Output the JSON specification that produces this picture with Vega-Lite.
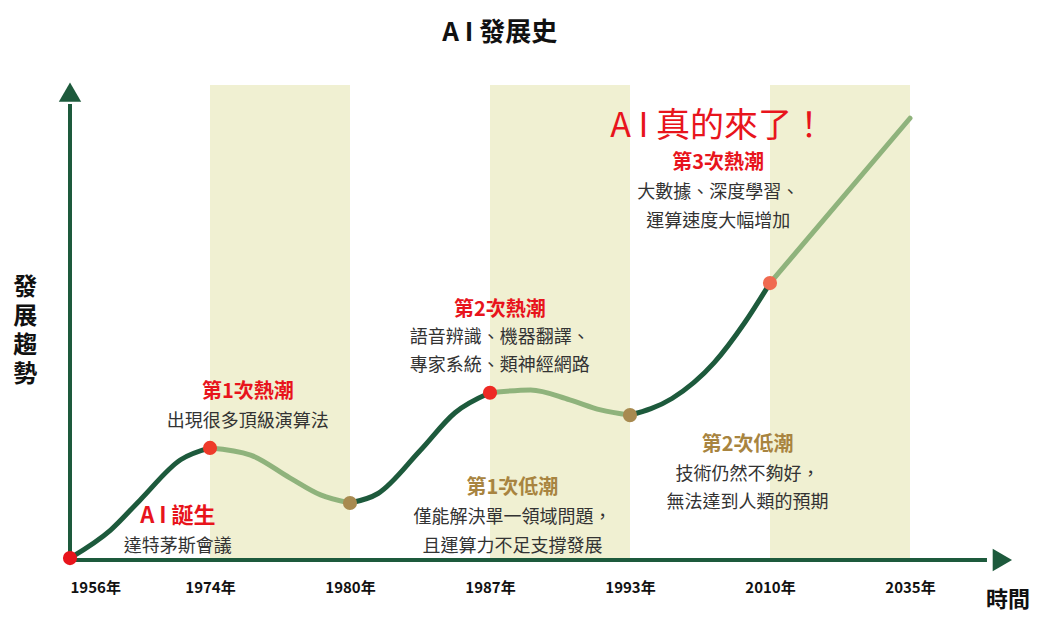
{
"$schema":"https://vega.github.io/schema/vega-lite/v6.json",
"width":930,"height":475,"autosize":"none",
"padding":{"left":70,"top":85,"right":41,"bottom":74},
"config":{"view":{"stroke":null},"font":"Noto Sans CJK TC"},
"datasets":{
"bands":[{"pos":1,"pos2":2,"v":100,"v2":0},{"pos":3,"pos2":4,"v":100,"v2":0},{"pos":5,"pos2":6,"v":100,"v2":0}],
"axes":[{"pos":0,"pos2":6.55,"v":0,"v2":0},{"pos":0,"pos2":0,"v":0,"v2":96}],
"arrows":[{"pos":6.66,"v":0,"shape":"triangle-right"},{"pos":0,"v":98.5,"shape":"triangle-up"}],
"curve":[
{"seg":1,"pos":0,"v":0.4,"c":"#1d5a3c"},{"seg":1,"pos":0.29,"v":6.3,"c":"#1d5a3c"},{"seg":1,"pos":0.5,"v":12.6,"c":"#1d5a3c"},{"seg":1,"pos":0.79,"v":21.1,"c":"#1d5a3c"},{"seg":1,"pos":1,"v":23.6,"c":"#1d5a3c"},
{"seg":2,"pos":1,"v":23.6,"c":"#8fb37c"},{"seg":2,"pos":1.29,"v":22.1,"c":"#8fb37c"},{"seg":2,"pos":1.57,"v":17.3,"c":"#8fb37c"},{"seg":2,"pos":1.79,"v":13.7,"c":"#8fb37c"},{"seg":2,"pos":2,"v":12,"c":"#8fb37c"},
{"seg":3,"pos":2,"v":12,"c":"#1d5a3c"},{"seg":3,"pos":2.2,"v":14,"c":"#1d5a3c"},{"seg":3,"pos":2.5,"v":23,"c":"#1d5a3c"},{"seg":3,"pos":2.75,"v":31,"c":"#1d5a3c"},{"seg":3,"pos":3,"v":35.2,"c":"#1d5a3c"},
{"seg":4,"pos":3,"v":35.2,"c":"#8fb37c"},{"seg":4,"pos":3.29,"v":35.8,"c":"#8fb37c"},{"seg":4,"pos":3.57,"v":33.7,"c":"#8fb37c"},{"seg":4,"pos":3.79,"v":31.6,"c":"#8fb37c"},{"seg":4,"pos":4,"v":30.5,"c":"#8fb37c"},
{"seg":5,"pos":4,"v":30.5,"c":"#1d5a3c"},{"seg":5,"pos":4.3,"v":34,"c":"#1d5a3c"},{"seg":5,"pos":4.6,"v":41.5,"c":"#1d5a3c"},{"seg":5,"pos":4.82,"v":50,"c":"#1d5a3c"},{"seg":5,"pos":5,"v":58.3,"c":"#1d5a3c"},
{"seg":6,"pos":5,"v":58.3,"c":"#8fb37c"},{"seg":6,"pos":6,"v":93,"c":"#8fb37c"}],
"dots":[{"pos":0,"v":0.4,"c":"#e8141c"},{"pos":1,"v":23.6,"c":"#ee3a2a"},{"pos":2,"v":12,"c":"#a88a50"},{"pos":3,"v":35.2,"c":"#ee2a24"},{"pos":4,"v":30.5,"c":"#a88a50"},{"pos":5,"v":58.3,"c":"#f06a50"}],
"texts":[
{"pos":4.63,"v":77.3,"t":"大數據、深度學習、","c":"#333333","s":18},
{"pos":4.63,"v":71.2,"t":"運算速度大幅增加","c":"#333333","s":18},
{"pos":3.07,"v":46.7,"t":"語音辨識、機器翻譯、","c":"#333333","s":18},
{"pos":3.07,"v":40.8,"t":"專家系統、類神經網路","c":"#333333","s":18},
{"pos":1.27,"v":29.1,"t":"出現很多頂級演算法","c":"#333333","s":18},
{"pos":0.77,"v":2.7,"t":"達特茅斯會議","c":"#333333","s":18},
{"pos":3.16,"v":8.8,"t":"僅能解決單一領域問題，","c":"#333333","s":18},
{"pos":3.16,"v":2.7,"t":"且運算力不足支撐發展","c":"#333333","s":18},
{"pos":4.84,"v":17.9,"t":"技術仍然不夠好，","c":"#333333","s":18},
{"pos":4.84,"v":12,"t":"無法達到人類的預期","c":"#333333","s":18},
{"pos":4.63,"v":91.2,"t":"A I 真的來了！","c":"#e8141c","s":34}],
"btexts":[
{"pos":4.63,"v":83.6,"t":"第3次熱潮","c":"#e8141c","s":20},
{"pos":3.07,"v":52.6,"t":"第2次熱潮","c":"#e8141c","s":20},
{"pos":1.27,"v":35.4,"t":"第1次熱潮","c":"#e8141c","s":20},
{"pos":0.77,"v":9.3,"t":"A I 誕生","c":"#e8141c","s":22},
{"pos":3.16,"v":15.2,"t":"第1次低潮","c":"#a88440","s":20},
{"pos":4.84,"v":24.2,"t":"第2次低潮","c":"#a88440","s":20},
{"pos":3.07,"v":111,"t":"A I 發展史","c":"#111111","s":26},
{"pos":6.7,"v":-8.5,"t":"時間","c":"#111111","s":22}]
},
"encoding":{
"x":{"field":"pos","type":"quantitative","scale":{"domain":[0,6.643],"nice":false,"zero":false},
"axis":{"values":[0,1,2,3,4,5,6],"labelExpr":"['1956年','1974年','1980年','1987年','1993年','2010年','2035年'][datum.value]","domain":false,"ticks":false,"grid":false,"labelFontSize":15,"labelFontWeight":"bold","labelColor":"#111","labelPadding":20,"title":null,"labelFont":"Noto Sans CJK TC"}},
"y":{"field":"v","type":"quantitative","scale":{"domain":[0,100],"nice":false,"zero":false},"axis":null}
},
"layer":[
{"data":{"name":"bands"},"mark":{"type":"rect","color":"#f0f0d2"},"encoding":{"x2":{"field":"pos2"},"y2":{"field":"v2"}}},
{"data":{"name":"axes"},"mark":{"type":"rule","color":"#1d5a3c","strokeWidth":4,"clip":false},"encoding":{"x2":{"field":"pos2"},"y2":{"field":"v2"}}},
{"data":{"name":"arrows"},"mark":{"type":"point","filled":true,"color":"#1d5a3c","size":500,"opacity":1,"clip":false},"encoding":{"shape":{"field":"shape","type":"nominal","scale":null}}},
{"data":{"name":"curve"},"mark":{"type":"line","interpolate":"monotone","strokeWidth":5,"strokeCap":"round"},"encoding":{"detail":{"field":"seg"},"color":{"field":"c","type":"nominal","scale":null}}},
{"data":{"name":"dots"},"mark":{"type":"circle","size":200,"opacity":1},"encoding":{"color":{"field":"c","type":"nominal","scale":null}}},
{"data":{"name":"texts"},"mark":{"type":"text","align":"center","baseline":"middle","clip":false},"encoding":{"text":{"field":"t"},"color":{"field":"c","type":"nominal","scale":null},"size":{"field":"s","type":"quantitative","scale":null}}},
{"data":{"name":"btexts"},"mark":{"type":"text","align":"center","baseline":"middle","clip":false,"fontWeight":"bold"},"encoding":{"text":{"field":"t"},"color":{"field":"c","type":"nominal","scale":null},"size":{"field":"s","type":"quantitative","scale":null}}},
{"data":{"values":[{"pos":-0.32,"v":57.3}]},"mark":{"type":"text","text":["發","展","趨","勢"],"fontSize":24,"fontWeight":"bold","lineHeight":29,"color":"#111","align":"center","baseline":"middle","clip":false}}
]
}
